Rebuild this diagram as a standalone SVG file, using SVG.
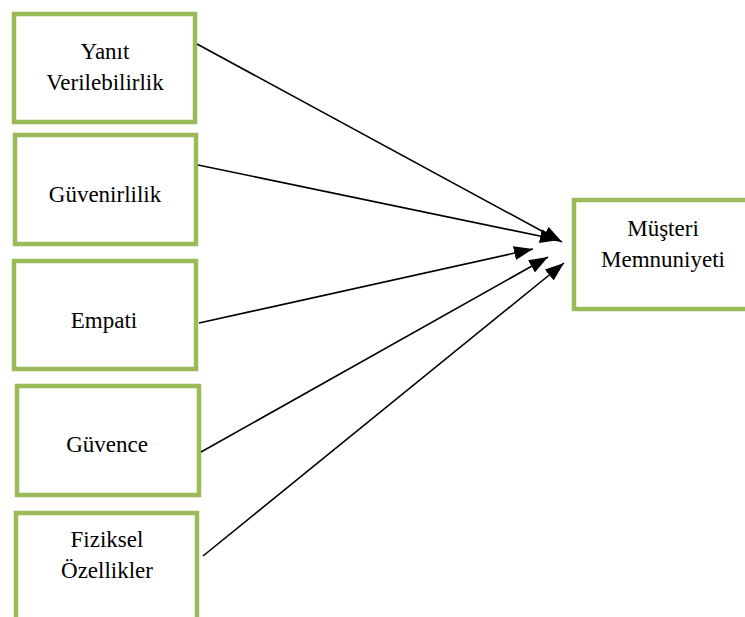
<svg xmlns="http://www.w3.org/2000/svg" width="745" height="617" viewBox="0 0 745 617">
<style>
.box{fill:#fff;stroke:#9BBB59;stroke-width:4.5}
.t{font-size:23px;fill:#000;text-anchor:middle}
.c{stroke:#000;stroke-width:1.6;fill:none;marker-end:url(#ah)}
</style>
<defs>
<marker id="ah" markerUnits="userSpaceOnUse" markerWidth="20" markerHeight="14" refX="19" refY="7" orient="auto">
<path d="M0,0 L19,7 L0,14 Z" fill="#000"/>
</marker>
</defs>
<rect width="745" height="617" fill="#fff"/>
<g font-family="Liberation Serif, DejaVu Serif, serif">
<g id="n1"><rect class="box" x="14" y="14" width="181" height="108"/><text class="t" font-family="Liberation Serif, serif" x="105" y="59">Yanıt</text><text class="t" font-family="Liberation Serif, serif" x="105" y="90">Verilebilirlik</text></g>
<g id="n2"><rect class="box" x="15" y="135" width="181" height="109"/><text class="t" font-family="Liberation Serif, serif" x="105" y="202">Güvenirlilik</text></g>
<g id="n3"><rect class="box" x="14" y="261" width="182" height="108"/><text class="t" font-family="Liberation Serif, serif" x="104" y="328">Empati</text></g>
<g id="n4"><rect class="box" x="17" y="386" width="182" height="109"/><text class="t" font-family="Liberation Serif, serif" x="107" y="452">Güvence</text></g>
<g id="n5"><rect class="box" x="16" y="513" width="181" height="120"/><text class="t" font-family="Liberation Serif, serif" x="107" y="547">Fiziksel</text><text class="t" font-family="Liberation Serif, serif" x="107" y="578">Özellikler</text></g>
<g id="n6"><rect class="box" x="574" y="200" width="180" height="109"/><text class="t" font-family="Liberation Serif, serif" x="663" y="236">Müşteri</text><text class="t" font-family="Liberation Serif, serif" x="663" y="267">Memnuniyeti</text></g>
</g>
<g id="connectors">
<line class="c" x1="197" y1="44" x2="562" y2="242"/>
<line class="c" x1="198" y1="165" x2="559" y2="240"/>
<line class="c" x1="199" y1="323" x2="533" y2="249"/>
<line class="c" x1="201" y1="452" x2="548" y2="257"/>
<line class="c" x1="203" y1="556" x2="564" y2="263"/>
</g>
</svg>
